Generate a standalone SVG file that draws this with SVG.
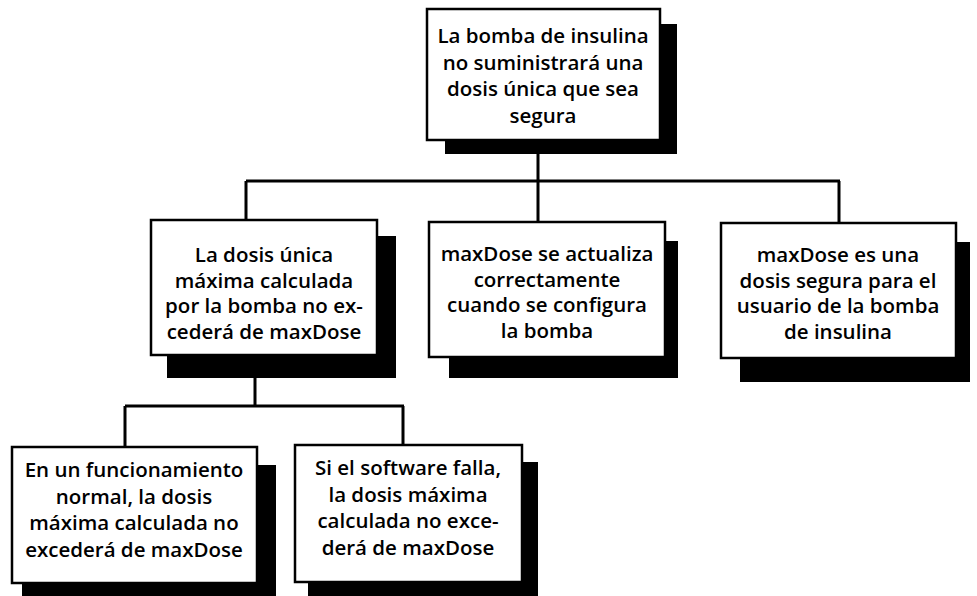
<svg xmlns="http://www.w3.org/2000/svg" width="977" height="596" viewBox="0 0 977 596">
<style>
.box{fill:#fff;stroke:#000;stroke-width:2.5}
.sh{fill:#000}
.t{font-family:"Open Sans","Liberation Sans",sans-serif;font-weight:600;font-size:20.5px;fill:#000;text-anchor:middle}
.c{fill:none;stroke:#000;stroke-width:3}
</style>
<rect width="977" height="596" fill="#fff"/>
<g id="connectors">
<path class="c" d="M538 140V181M246 181H840M246 181V220M538 181V222M839 181V223"/>
<path class="c" d="M255 377V406M125 406H404M125 406V447M403 406V445"/>
</g>
<g id="n_top">
<rect class="sh" x="445" y="24" width="232" height="130"/>
<rect class="box" x="427" y="9" width="233" height="131"/>
<text class="t"><tspan x="543" y="43">La bomba de insulina</tspan><tspan x="543" y="69.5">no suministrará una</tspan><tspan x="543" y="96">dosis única que sea</tspan><tspan x="543" y="122.5">segura</tspan></text>
</g>
<g id="n_m1">
<rect class="sh" x="167" y="236" width="229" height="142"/>
<rect class="box" x="151" y="220" width="226" height="135"/>
<text class="t"><tspan x="264" y="262">La dosis única</tspan><tspan x="264" y="287.5">máxima calculada</tspan><tspan x="264" y="313">por la bomba no ex-</tspan><tspan x="264" y="338.5">cederá de maxDose</tspan></text>
</g>
<g id="n_m2">
<rect class="sh" x="449" y="241" width="229" height="137"/>
<rect class="box" x="429" y="222" width="236" height="135"/>
<text class="t"><tspan x="547" y="261">maxDose se actualiza</tspan><tspan x="547" y="286.5">correctamente</tspan><tspan x="547" y="312">cuando se configura</tspan><tspan x="547" y="337.5">la bomba</tspan></text>
</g>
<g id="n_m3">
<rect class="sh" x="740" y="242" width="230" height="140"/>
<rect class="box" x="721" y="223" width="235" height="135"/>
<text class="t"><tspan x="838" y="262">maxDose es una</tspan><tspan x="838" y="287.5">dosis segura para el</tspan><tspan x="838" y="313">usuario de la bomba</tspan><tspan x="838" y="338.5">de insulina</tspan></text>
</g>
<g id="n_b1">
<rect class="sh" x="22" y="465" width="254" height="140"/>
<rect class="box" x="12" y="447" width="245" height="136"/>
<text class="t"><tspan x="134" y="477">En un funcionamiento</tspan><tspan x="134" y="503.5">normal, la dosis</tspan><tspan x="134" y="530">máxima calculada no</tspan><tspan x="134" y="557">excederá de maxDose</tspan></text>
</g>
<g id="n_b2">
<rect class="sh" x="308" y="462" width="230" height="140"/>
<rect class="box" x="295" y="445" width="227" height="137"/>
<text class="t"><tspan x="408" y="475">Si el software falla,</tspan><tspan x="408" y="501.5">la dosis máxima</tspan><tspan x="408" y="528">calculada no exce-</tspan><tspan x="408" y="555">derá de maxDose</tspan></text>
</g>
</svg>
